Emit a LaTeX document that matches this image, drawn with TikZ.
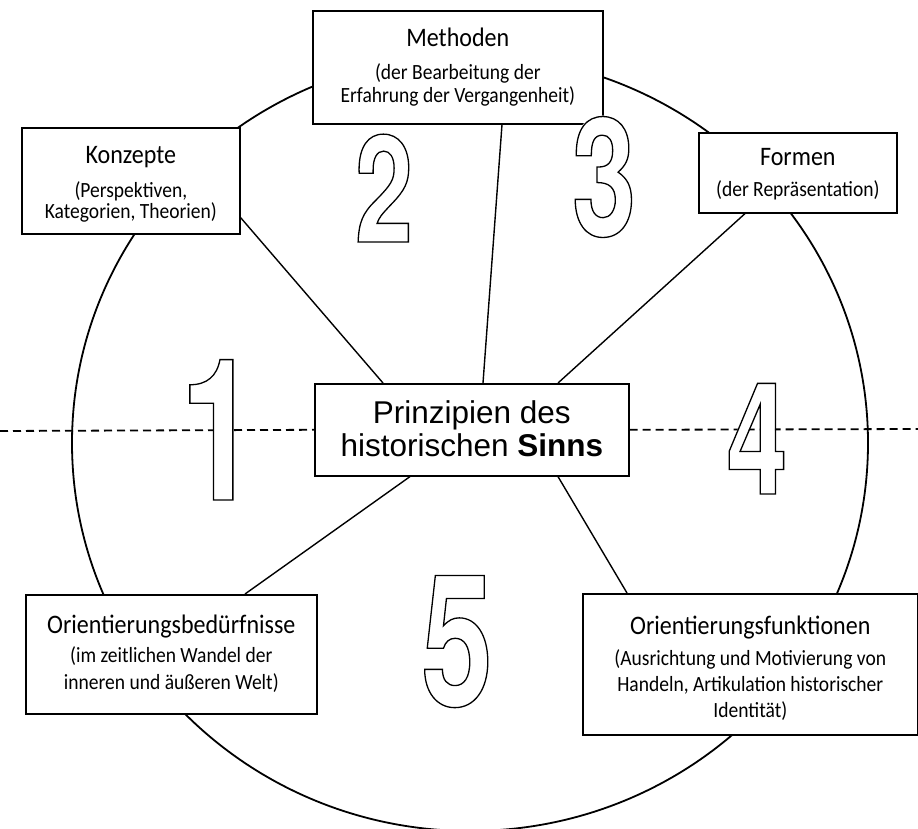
\documentclass[tikz,border=0pt]{standalone}
\usepackage{fontspec}
\setmainfont{Carlito}[FakeStretch=0.9]
\newfontfamily\centerfont{Liberation Sans}
\newfontfamily\digitfont{TeX Gyre Heros}[FakeStretch=0.7]
\usetikzlibrary{calc}
\newcommand\outdigit[1]{\rlap{\textcolor{white}{#1}}\special{pdf:literal 1 Tr 1.3 w}#1\special{pdf:literal 0 Tr}}
\newcommand\ttl{\fontsize{26.7}{26.7}\selectfont}
\newcommand\stack[2]{\vtop{\baselineskip=#1\lineskiplimit=-100pt\relax\halign{\hfil##\hfil\cr#2\crcr}}}
\begin{document}
\begin{tikzpicture}[x=1pt,y=-1pt,
  box/.style={draw, line width=1.6pt, fill=white, inner sep=0pt, minimum height=0pt, anchor=north west},
  small/.style={font=\fontsize{21.7}{24}\selectfont},
  spoke/.style={line width=1.4pt},
  digit/.style={inner sep=0pt, anchor=base},
  divider/.style={line width=1.8pt, dash pattern=on 8pt off 5pt}]
\useasboundingbox (0,0) rectangle (918,829);
\draw[line width=1.8pt] (470,443) ellipse [x radius=398, y radius=388];

\node[box, minimum width=314pt, text height=40pt, text depth=52pt,
  font=\centerfont\fontsize{31.5}{33}\selectfont] (cen) at (314,383)
  {\stack{33pt}{Prinzipien des\cr historischen \textbf{Sinns}}};

\node[box, small, minimum width=218pt, text height=36pt, text depth=70pt] (konz) at (21,127)
  {\stack{21pt}{{\ttl Konzepte}\cr\noalign{\vskip13pt}(Perspektiven,\cr Kategorien, Theorien)}};

\node[box, small, minimum width=290pt, text height=36pt, text depth=77pt] (meth) at (312,10)
  {\stack{23pt}{{\ttl Methoden}\cr\noalign{\vskip10pt}(der Bearbeitung der\cr Erfahrung der Vergangenheit)}};

\node[box, small, minimum width=198pt, text height=33pt, text depth=47pt] (form) at (698,132)
  {\stack{22pt}{{\ttl Formen}\cr\noalign{\vskip9pt}(der Repräsentation)}};

\node[box, small, minimum width=291pt, text height=39pt, text depth=80pt] (bed) at (25,594)
  {\stack{27pt}{{\ttl Orientierungsbedürfnisse}\cr\noalign{\vskip2pt}(im zeitlichen Wandel der\cr inneren und äußeren Welt)}};

\node[box, small, minimum width=335pt, text height=41pt, text depth=100pt] (funk) at (582,593)
  {\stack{26pt}{{\ttl Orientierungsfunktionen}\cr\noalign{\vskip5pt}(Ausrichtung und Motivierung von\cr Handeln, Artikulation historischer\cr Identität)}};

\coordinate (farleft) at (0,431);
\coordinate (farright) at (918,429);
\draw[divider] (farleft) -- (cen.west);
\draw[divider] (cen.east) -- (farright);

\draw[spoke] ($(cen.north west)+(69,0)$) -- ($(konz.south east)+(0,-17)$);
\draw[spoke] ($(cen.north west)+(169,0)$) -- ($(meth.south west)+(190,0)$);
\draw[spoke] ($(cen.north west)+(244,0)$) -- ($(form.south west)+(47,0)$);
\draw[spoke] ($(cen.south west)+(96,0)$) -- ($(bed.north west)+(220,0)$);
\draw[spoke] ($(cen.south west)+(244,0)$) -- ($(funk.north west)+(45,0)$);

\node[digit, font=\digitfont\bfseries\fontsize{198}{198}\selectfont] (n1) at (219,500) {\outdigit{1}};
\node[digit, font=\digitfont\bfseries\fontsize{149}{149}\selectfont] (n2) at (384,242) {\outdigit{2}};
\node[digit, font=\digitfont\bfseries\fontsize{165}{165}\selectfont] (n3) at (604,236) {\outdigit{3}};
\node[digit, font=\digitfont\bfseries\fontsize{156}{156}\selectfont] (n4) at (757,494) {\outdigit{4}};
\node[digit, font=\digitfont\bfseries\fontsize{184}{184}\selectfont] (n5) at (457,706) {\outdigit{5}};
\end{tikzpicture}
\end{document}
